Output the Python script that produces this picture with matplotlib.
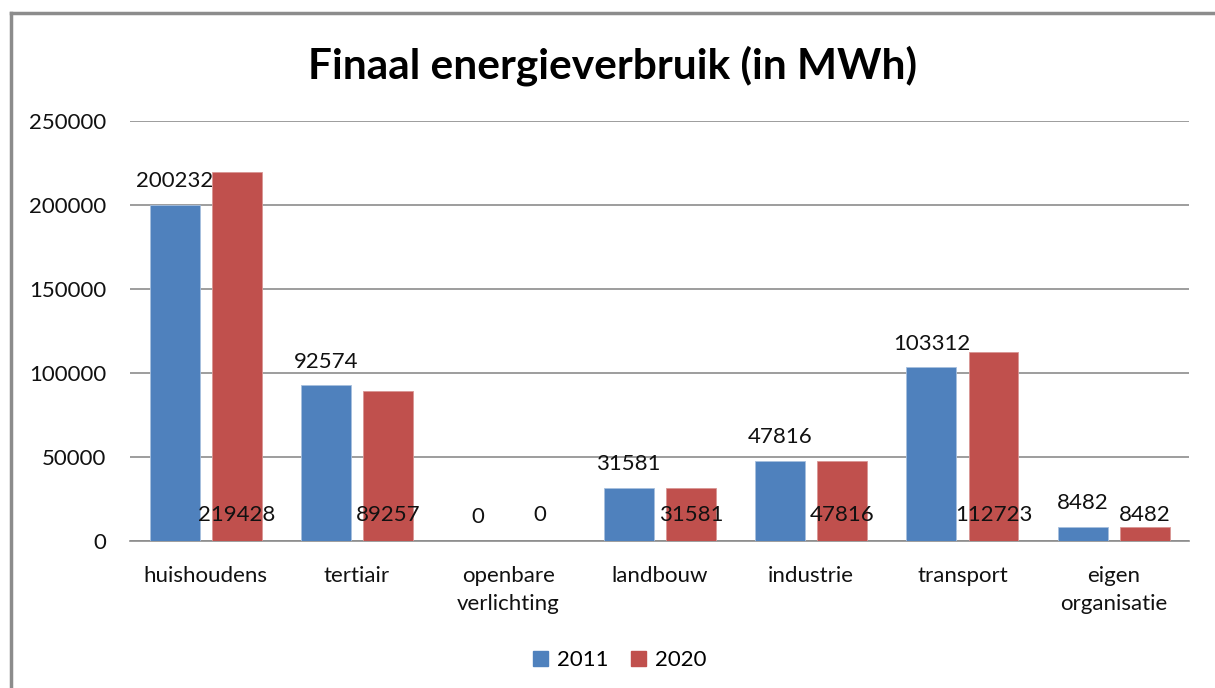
import matplotlib.pyplot as plt
import matplotlib.patches as mpatches
import numpy as np

categories = ["huishoudens", "tertiair", "openbare\nverlichting", "landbouw",
              "industrie", "transport", "eigen\norganisatie"]
series_names = ["2011", "2020"]
values_2011 = [200232, 92574, 0, 31581, 47816, 103312, 8482]
values_2020 = [219428, 89257, 0, 31581, 47816, 112723, 8482]
yticks = [0, 50000, 100000, 150000, 200000, 250000]

blue = "#4F81BD"
red = "#C0504D"
grid_col = "#8C8C8C"
text_col = "#111111"

plt.rcParams['font.family'] = ['Lato', 'DejaVu Sans']

fig = plt.figure(figsize=(12.15, 6.88), dpi=100)
ax = fig.add_axes([0.107, 0.2137, 0.872, 0.6105])

x = np.arange(len(categories))
width = 0.33
offset = 0.205
ax.bar(x - offset, values_2011, width, color=blue, edgecolor="#A7BFDE", linewidth=0.6, zorder=3, label=series_names[0])
ax.bar(x + offset, values_2020, width, color=red, edgecolor="#D99694", linewidth=0.6, zorder=3, label=series_names[1])

# labels: 2011 above bars, 2020 stuck near the base (as in the original)
for xi, v in zip(x - offset, values_2011):
    ax.annotate(str(v), (xi, v), xytext=(0, 17), textcoords="offset points",
                ha="center", va="center", fontsize=16, color=text_col, zorder=4)
for xi, v in zip(x + offset, values_2020):
    ax.annotate(str(v), (xi, 0), xytext=(0, 19), textcoords="offset points",
                ha="center", va="center", fontsize=16, color=text_col, zorder=4)

ax.set_xlim(-0.5, len(categories) - 0.5)
ax.set_ylim(0, 250000)
ax.set_yticks(yticks)
ax.set_yticklabels([str(t) for t in yticks], fontsize=16, color=text_col)
ax.set_xticks(x)
ax.set_xticklabels(categories, fontsize=16, color=text_col, linespacing=1.5, va="top")
ax.tick_params(axis="both", length=0)
ax.tick_params(axis="y", pad=17)
ax.tick_params(axis="x", pad=18)
ax.yaxis.grid(True, color=grid_col, linewidth=1.2, zorder=0)
for s in ["top", "right", "left"]:
    ax.spines[s].set_visible(False)
ax.spines["bottom"].set_color(grid_col)
ax.spines["bottom"].set_linewidth(1.2)

fig.text(0.504, 0.905, "Finaal energieverbruik (in MWh)", ha="center", va="center",
         fontsize=30.5, fontweight="bold", color="black")

handles = [mpatches.Patch(color=blue, label=series_names[0]),
           mpatches.Patch(color=red, label=series_names[1])]
fig.legend(handles=handles, loc="center", bbox_to_anchor=(0.51, 0.04), ncol=2,
           frameon=False, fontsize=16, handlelength=0.7, handleheight=0.7,
           handletextpad=0.4, columnspacing=1.0)

# outer chart border (left and top visible)
fig.add_artist(plt.Line2D([11 / 1215, 11 / 1215], [0, 1 - 13 / 688], transform=fig.transFigure,
                          color="#8C8C8C", linewidth=2.5))
fig.add_artist(plt.Line2D([11 / 1215, 1], [1 - 13 / 688, 1 - 13 / 688], transform=fig.transFigure,
                          color="#8C8C8C", linewidth=2.5))

fig.savefig("out.png", dpi=100)
